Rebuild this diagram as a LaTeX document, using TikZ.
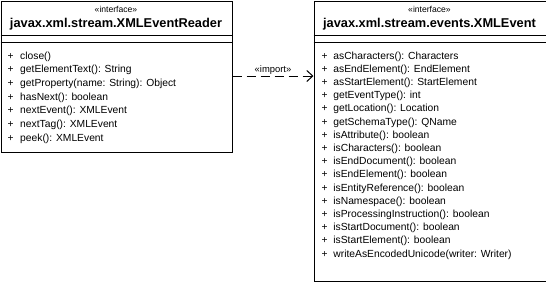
\documentclass[tikz,border=0pt]{standalone}
\usepackage{fontspec}
\setmainfont{Liberation Sans}
\usetikzlibrary{arrows.meta}
\begin{document}
\begin{tikzpicture}[x=1pt,y=-1pt,
  classbox/.style={draw, line width=1pt, inner sep=0pt, anchor=north west},
  sep/.style={line width=1pt},
  stereo/.style={inner sep=0pt, anchor=base, font=\fontsize{8.6}{9}\selectfont},
  cname/.style={inner sep=0pt, anchor=base, font=\fontsize{12.8}{14}\selectfont\bfseries},
  meth/.style={inner sep=0pt, anchor=base west, font=\fontsize{10.3}{12}\selectfont},
  dep/.style={line width=1pt, dash pattern=on 9pt off 5pt, -{Straight Barb[length=6pt,width=11pt,line width=1pt]}},
  deplabel/.style={inner sep=0pt, anchor=base, font=\fontsize{9.4}{10}\selectfont}]
\useasboundingbox (0,0) rectangle (546,282);
\fill[white] (0,0) rectangle (546,282);

% interface XMLEventReader
\node[classbox, minimum width=231pt, minimum height=151pt] (reader) at (0.5,0.5) {};
\node[stereo] (readerst) at (116,12.5) {«interface»};
\node[cname] (readername) at (116,27.5) {javax.xml.stream.XMLEventReader};
\draw[sep] (reader.west |- 0,35.5) -- (reader.east |- 0,35.5);
\draw[sep] (reader.west |- 0,42.5) -- (reader.east |- 0,42.5);
\foreach \t [count=\i from 0] in {close(), getElementText(): String,
    getProperty(name: String): Object, hasNext(): boolean,
    nextEvent(): XMLEvent, nextTag(): XMLEvent, peek(): XMLEvent}
  \node[meth] (rm\i) at (7.3,{59+13.7*\i}) {\makebox[12.7pt][l]{+}\t};

% interface XMLEvent
\node[classbox, minimum width=232pt, minimum height=280pt] (event) at (313.5,0.5) {};
\node[stereo] (eventst) at (429.5,12.5) {«interface»};
\node[cname] (eventname) at (429.5,27.5) {javax.xml.stream.events.XMLEvent};
\draw[sep] (event.west |- 0,35.5) -- (event.east |- 0,35.5);
\draw[sep] (event.west |- 0,42.5) -- (event.east |- 0,42.5);
\foreach \t [count=\i from 0] in {asCharacters(): Characters,
    asEndElement(): EndElement, asStartElement(): StartElement,
    getEventType(): int, getLocation(): Location, getSchemaType(): QName,
    isAttribute(): boolean, isCharacters(): boolean, isEndDocument(): boolean,
    isEndElement(): boolean, isEntityReference(): boolean,
    isNamespace(): boolean, isProcessingInstruction(): boolean,
    isStartDocument(): boolean, isStartElement(): boolean,
    writeAsEncodedUnicode(writer: Writer)}
  \node[meth] (em\i) at (321.5,{59+13.2*\i}) {\makebox[11.7pt][l]{+}\t};

% import dependency
\coordinate (imp) at (0,76);
\draw[dep] (reader.east |- imp) -- (event.west |- imp)
  node[deplabel, midway, yshift=3.5pt] (implabel) {«import»};
\end{tikzpicture}
\end{document}
